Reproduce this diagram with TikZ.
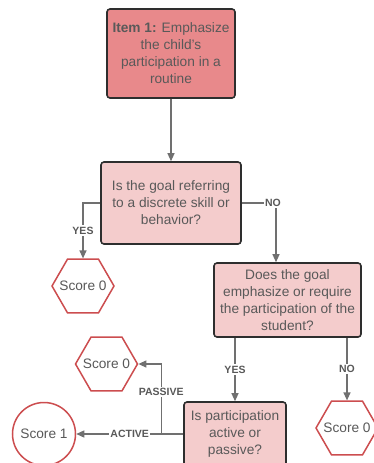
\documentclass[tikz,border=0pt]{standalone}
\usepackage{fontspec}
\setmainfont{Liberation Sans}
\usetikzlibrary{arrows.meta,shapes.geometric}
\definecolor{txt}{HTML}{595959}
\definecolor{itemfill}{HTML}{E8898B}
\definecolor{qfill}{HTML}{F4CCCC}
\definecolor{qborder}{HTML}{2E2E2E}
\definecolor{scorered}{HTML}{CC4D4F}
\definecolor{wire}{HTML}{707070}
\tikzset{
  base/.style={font=\fontsize{13.7}{17}\selectfont, text=txt, align=center},
  qbox/.style={base, draw=qborder, fill=qfill, line width=1.6pt, rounded corners=3pt, inner sep=0pt},
  itembox/.style={qbox, fill=itemfill},
  scorehex/.style={base, regular polygon, regular polygon sides=6, draw=scorered, line width=1.5pt, fill=white, minimum size=62pt, inner sep=0pt},
  scorecirc/.style={base, circle, draw=scorered, line width=1.5pt, fill=white, minimum size=63pt, inner sep=0pt},
  link/.style={draw=wire, line width=1.2pt, -{Triangle[length=8pt,width=7pt]}},
  lbl/.style={font=\bfseries\fontsize{10.5}{12}\selectfont, text=txt, fill=white, inner sep=1.5pt},
}
% score text is centred without widening the hexagon
\newcommand{\scoretext}[1]{\makebox[0pt]{#1}}
\begin{document}
\begin{tikzpicture}[x=1pt,y=-1pt]
\useasboundingbox (0,0) rectangle (373,463);

% decision boxes
\node[itembox, minimum width=128pt, minimum height=89pt] (b1) at (171,53.5)
  {\textbf{Item 1:} Emphasize\\the child's\\participation in a\\routine};
\node[qbox, minimum width=140pt, minimum height=82pt] (b2) at (171,203)
  {Is the goal referring\\to a discrete skill or\\behavior?};
\node[qbox, minimum width=147pt, minimum height=74pt] (b3) at (287.5,300)
  {Does the goal\\emphasize or require\\the participation of the\\student?};
\node[qbox, minimum width=102pt, minimum height=64pt] (b4) at (235,434)
  {Is participation\\active or\\passive?};

% scores
\node[scorehex] (h1) at (83,286) {\scoretext{Score 0}};
\node[scorehex] (h2) at (106.5,364) {\scoretext{Score 0}};
\node[scorehex] (h3) at (347,428) {\scoretext{Score 0}};
\node[scorecirc] (c1) at (44,434) {Score 1};

% connectors
\draw[link] (b1) -- (b2);
\draw[link] (b2.east) -| node[lbl, pos=0.5, xshift=-3pt]{NO} ([xshift=-11.5pt]b3.north);
\draw[link] (b2.west) -| node[lbl, pos=0.75]{YES} (h1.north);
\draw[link] (b3.south -| b4.north) -- node[lbl]{YES} (b4.north);
\draw[link] (b3.south -| h3.north) -- node[lbl]{NO} (h3.north);
\coordinate (pv) at ([xshift=-22pt]b4.west);
\draw[link] (b4.west) -- (pv) |- node[lbl, pos=0.3]{PASSIVE} (h2.east);
\draw[link] (b4.west) -- node[lbl, pos=0.5]{ACTIVE} (c1.east);
\end{tikzpicture}
\end{document}
